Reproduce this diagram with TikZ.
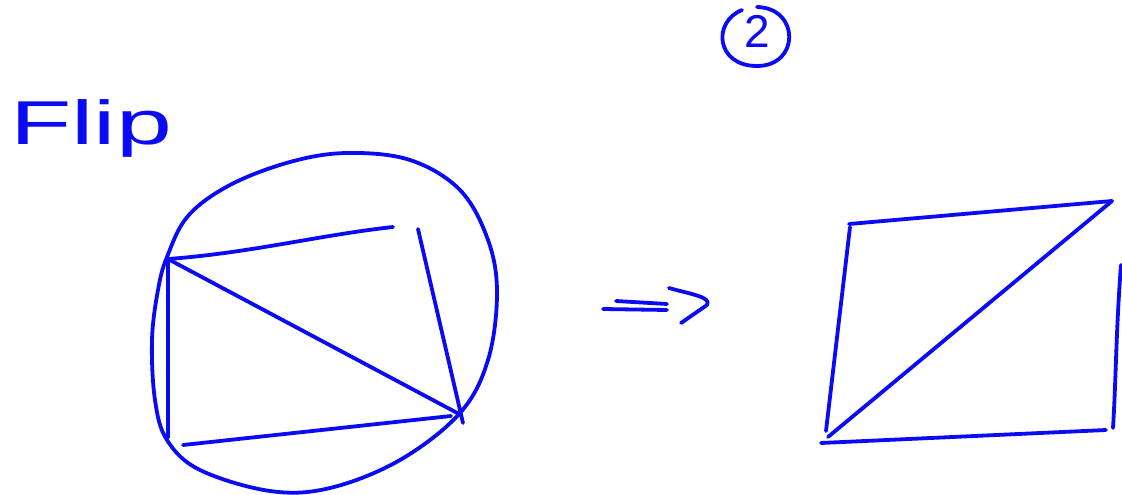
\documentclass[tikz,border=0pt]{standalone}
\usepackage{fontspec}
\setmainfont{Liberation Sans}
\definecolor{ink}{RGB}{10,10,245}
\begin{document}
\begin{tikzpicture}[x=1pt,y=-1pt,
  pen/.style={draw=ink,line width=3.8pt,line cap=round,line join=round},
  lbl/.style={text=ink,inner sep=0pt}]
\useasboundingbox (0,0) rectangle (1122,495);
% label Flip
\node[lbl,anchor=base west,font=\fontsize{62}{64}\selectfont,xscale=1.62,transform shape] (flip) at (10,144) {Flip};
% circled 2
\node[lbl,font=\fontsize{46}{48}\selectfont] (two) at (757,31) {2};
\draw[pen] (742,10) .. controls (712,22) and (716,66) .. (757,66) .. controls (800,66) and (800,8) .. (757,7);
% left figure: closed curve
\draw[pen] plot[smooth cycle,tension=0.6] coordinates {(188,216) (230,185) (290,162) (347,153) (410,160) (460,190) (488,240) (497,293) (488,360) (460,413) (400,460) (330,488) (270,491) (200,470) (167,440) (155,400) (152,340) (158,290) (167,257)};
\coordinate (A) at (168,259);
\coordinate (B) at (393,227);
\coordinate (C) at (418,229);
\coordinate (D) at (461,415);
\coordinate (E) at (168,437);
\coordinate (F) at (183,445);
\coordinate (G) at (451,416);
\draw[pen] (A) .. controls (250,253) and (320,235) .. (B);
\draw[pen] (C) -- (463,423);
\draw[pen] (A) -- (D);
\draw[pen] (A) -- (E);
\draw[pen] (F) -- (G);
% arrow =>
\coordinate (p1) at (603,309);
\coordinate (p2) at (667,310);
\coordinate (p3) at (616,301);
\coordinate (p4) at (667,304);
\draw[pen] (p1) -- (p2);
\draw[pen] (p3) -- (p4);
\coordinate (q1) at (669,288);
\coordinate (q2) at (707,305);
\coordinate (q3) at (681,323);
\draw[pen] (q1) .. controls (690,294) and (712,297) .. (q2) -- (q3);
% right figure
\coordinate (R1) at (849,224);
\coordinate (R2) at (1112,201);
\coordinate (R3) at (826,431);
\coordinate (R4) at (828,437);
\coordinate (R5) at (821,443);
\coordinate (R6) at (1106,430);
\coordinate (R7) at (1121,265);
\coordinate (R8) at (1113,428);
\draw[pen] (R1) -- (R2);
\draw[pen] (850,227) -- (R3);
\draw[pen] (R4) -- (R2);
\draw[pen] (R5) -- (R6);
\draw[pen] (R7) .. controls (1116,330) and (1116,380) .. (R8);
\end{tikzpicture}
\end{document}
